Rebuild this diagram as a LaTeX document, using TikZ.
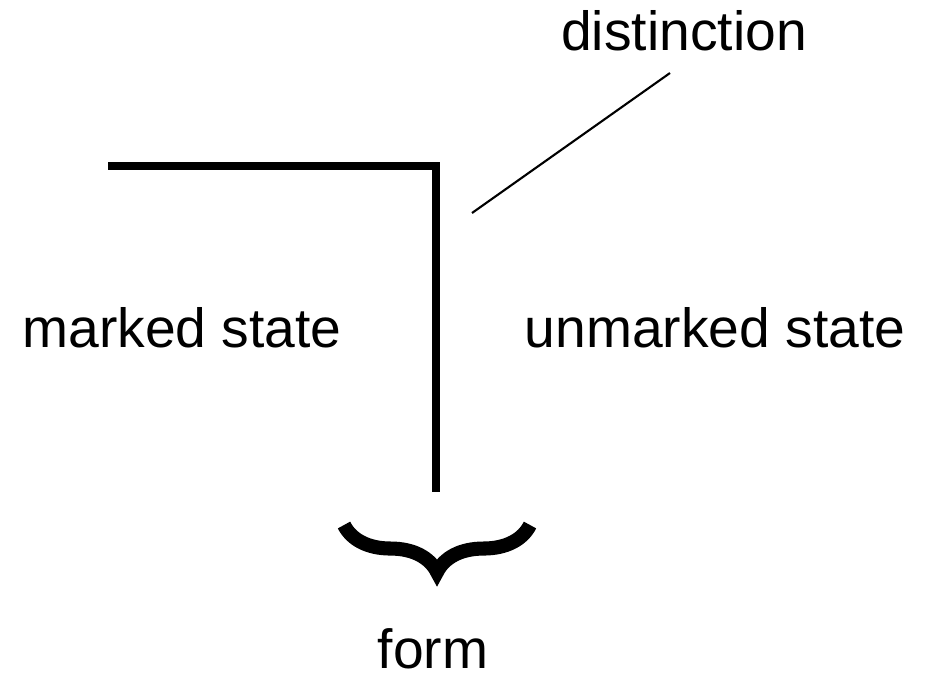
\documentclass[tikz,border=0pt]{standalone}
\usepackage{fontspec}
\setmainfont{Liberation Sans}
\usetikzlibrary{decorations.pathreplacing}

\begin{document}
\begin{tikzpicture}[
            x=0.01cm, y=-0.01cm,          % 像素坐标
            every node/.style={
                font=\fontsize{15.7}{19}\selectfont,
                inner sep=0pt
            },
            mark line/.style={line width=2pt, line cap=butt},
            thin line/.style={line width=0.6pt},
            brace line/.style={decorate, decoration={brace, amplitude=0.47cm, aspect=0.5}, line width=4pt}
        ]
            \useasboundingbox (0,0) rectangle (928,675);

            % 节点
            \node (distinction) at (684,31) {distinction};
            \node (marked) at (182,328) {marked state};
            \node (unmarked) at (715,328) {unmarked state};
            \node (form) at (433,649) {form};

            % 坐标
            \coordinate (L) at (108,166);
            \coordinate (C) at (436,166);
            \coordinate (B) at (436,492);
            \coordinate (d1) at (472,213);
            \coordinate (d2) at (670,73);
            \coordinate (bR) at (530,525);
            \coordinate (bL) at (344,525);

            % 边
            \draw[mark line] (L) -- (C) -- (B);
            \draw[thin line] (d1) -- (d2);
            \draw[brace line] (bR) -- (bL);
        \end{tikzpicture}
\end{document}
